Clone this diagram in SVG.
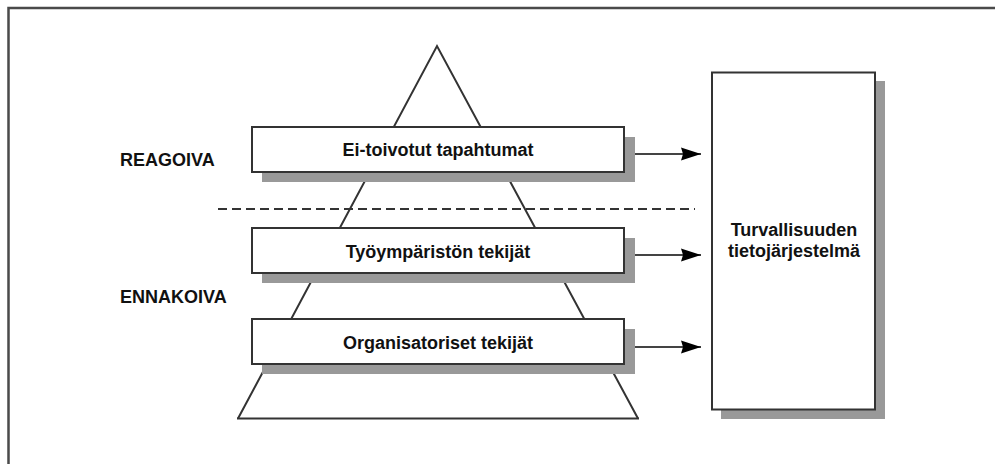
<svg xmlns="http://www.w3.org/2000/svg" width="995" height="464" viewBox="0 0 995 464">
<style>
.box{fill:#fff;stroke:#333;stroke-width:2}
.shadow{fill:#999}
.lbl{font-family:"Liberation Sans",Arial,sans-serif;font-weight:bold;font-size:18px;fill:#111}
.c{text-anchor:middle}
.pyr{fill:none;stroke:#333;stroke-width:2}
.conn{stroke:#444;stroke-width:2;fill:none}
</style>
<defs>
<marker id="ah" markerUnits="userSpaceOnUse" markerWidth="21" markerHeight="14" refX="20" refY="7" orient="auto">
<path d="M0,0.5 L20,7 L0,13.5 L2,7 Z" fill="#000"/>
</marker>
</defs>
<rect x="8.5" y="8" width="1000" height="500" fill="#fff" stroke="#4a4a4a" stroke-width="2.5"/>
<g id="pyramid">
<polyline class="pyr" points="238,418.5 437,46 638,418.5"/>
<line class="pyr" x1="237" y1="418.5" x2="639" y2="418.5"/>
</g>
<g id="divider">
<line x1="218" y1="209" x2="695" y2="209" stroke="#333" stroke-width="2" stroke-dasharray="9 5"/>
</g>
<g id="box1">
<rect class="shadow" x="262" y="137" width="373" height="45"/>
<rect class="box" x="252" y="127" width="372" height="45"/>
<text class="lbl c" x="438" y="155.5">Ei-toivotut tapahtumat</text>
</g>
<g id="box2">
<rect class="shadow" x="262" y="238" width="373" height="45"/>
<rect class="box" x="252" y="228" width="372" height="45"/>
<text class="lbl c" x="438" y="257.5">Työympäristön tekijät</text>
</g>
<g id="box3">
<rect class="shadow" x="262" y="329" width="373" height="45"/>
<rect class="box" x="252" y="319" width="372" height="45"/>
<text class="lbl c" x="438" y="349">Organisatoriset tekijät</text>
</g>
<g id="system">
<rect class="shadow" x="721" y="81" width="164" height="338"/>
<rect class="box" x="712" y="72.5" width="163" height="337"/>
<text class="lbl c" x="794" y="236">Turvallisuuden</text>
<text class="lbl c" x="794" y="257">tietojärjestelmä</text>
</g>
<g id="labels">
<text class="lbl" x="120" y="166">REAGOIVA</text>
<text class="lbl" x="120" y="302.5">ENNAKOIVA</text>
</g>
<g id="connectors">
<line class="conn" x1="635" y1="154" x2="701" y2="154" marker-end="url(#ah)"/>
<line class="conn" x1="635" y1="255" x2="701" y2="255" marker-end="url(#ah)"/>
<line class="conn" x1="635" y1="347" x2="701" y2="347" marker-end="url(#ah)"/>
</g>
</svg>
